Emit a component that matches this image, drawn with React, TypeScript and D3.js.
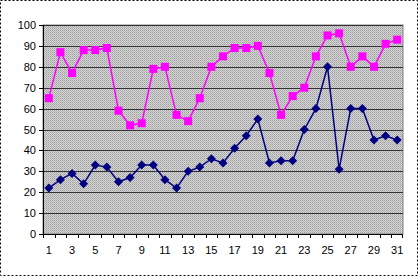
import React from "react";
import * as d3 from "d3";

const days = d3.range(1, 32);
const pinkSeries = [65, 87, 77, 88, 88, 89, 59, 52, 53, 79, 80, 57, 54, 65, 80, 85, 89, 89, 90, 77, 57, 66, 70, 85, 95, 96, 80, 85, 80, 91, 93];
const navySeries = [22, 26, 29, 24, 33, 32, 25, 27, 33, 33, 26, 22, 30, 32, 36, 34, 41, 47, 55, 34, 35, 35, 50, 60, 80, 31, 60, 60, 45, 47, 45];
const yTicks = [0, 10, 20, 30, 40, 50, 60, 70, 80, 90, 100];
const xLabels = days.filter((d) => d % 2 === 1);

export default function App() {
  const W = 418, H = 276;
  const left = 43, right = 403, top = 25, bottom = 234;
  const x = d3.scaleBand<number>().domain(days).range([left, right]);
  const y = d3.scaleLinear().domain([0, 100]).range([bottom, top]);
  const cx = (d: number) => (x(d) as number) + x.bandwidth() / 2;
  const line = d3.line<number>().x((_, i) => cx(days[i])).y((v) => y(v));
  const font = "Arial, 'Liberation Sans', sans-serif";
  return (
    <svg width={W} height={H} style={{ position: "absolute", left: 0, top: 0, background: "#fff" }}>
      <defs>
        <pattern id="dots" width="2" height="2" patternUnits="userSpaceOnUse">
          <rect width="2" height="2" fill="#d4d4d4" />
          <rect x="0" y="0" width="1" height="1" fill="#a0a0a0" />
          <rect x="1" y="1" width="1" height="1" fill="#b4b4b4" />
        </pattern>
      </defs>
      <rect x={0.5} y={0.5} width={W - 1} height={H - 1} fill="none" stroke="#000" strokeDasharray="2,2" />
      <rect x={left} y={top} width={right - left} height={bottom - top} fill="url(#dots)" stroke="#808080" />
      {yTicks.map((t) => (
        <g key={t}>
          {t > 0 && <line x1={left} x2={right} y1={Math.round(y(t)) + 0.5} y2={Math.round(y(t)) + 0.5} stroke="#333" />}
          <line x1={left - 4} x2={left} y1={Math.round(y(t)) + 0.5} y2={Math.round(y(t)) + 0.5} stroke="#000" />
          <text x={left - 7} y={y(t) + 4} textAnchor="end" fontSize={11} fontFamily={font} fill="#000">{t}</text>
        </g>
      ))}
      <line x1={left + 0.5} x2={left + 0.5} y1={top} y2={bottom} stroke="#000" />
      <line x1={left} x2={right} y1={bottom + 0.5} y2={bottom + 0.5} stroke="#000" />
      {days.map((d) => (
        <line key={d} x1={Math.round(x(d) as number) + 0.5} x2={Math.round(x(d) as number) + 0.5} y1={bottom} y2={bottom + 4} stroke="#000" />
      ))}
      <line x1={right - 0.5} x2={right - 0.5} y1={bottom} y2={bottom + 4} stroke="#000" />
      {xLabels.map((d) => (
        <text key={d} x={cx(d)} y={bottom + 20} textAnchor="middle" fontSize={11} fontFamily={font} fill="#000">{d}</text>
      ))}
      <path d={line(pinkSeries) as string} fill="none" stroke="#ff00ff" strokeWidth={1.5} />
      {pinkSeries.map((v, i) => (
        <rect key={i} x={cx(days[i]) - 4} y={y(v) - 4} width={8} height={8} fill="#ff00ff" />
      ))}
      <path d={line(navySeries) as string} fill="none" stroke="#000080" strokeWidth={1.5} />
      {navySeries.map((v, i) => (
        <path key={i} d={`M${cx(days[i])},${y(v) - 4.5}L${cx(days[i]) + 4.5},${y(v)}L${cx(days[i])},${y(v) + 4.5}L${cx(days[i]) - 4.5},${y(v)}Z`} fill="#000080" />
      ))}
    </svg>
  );
}
